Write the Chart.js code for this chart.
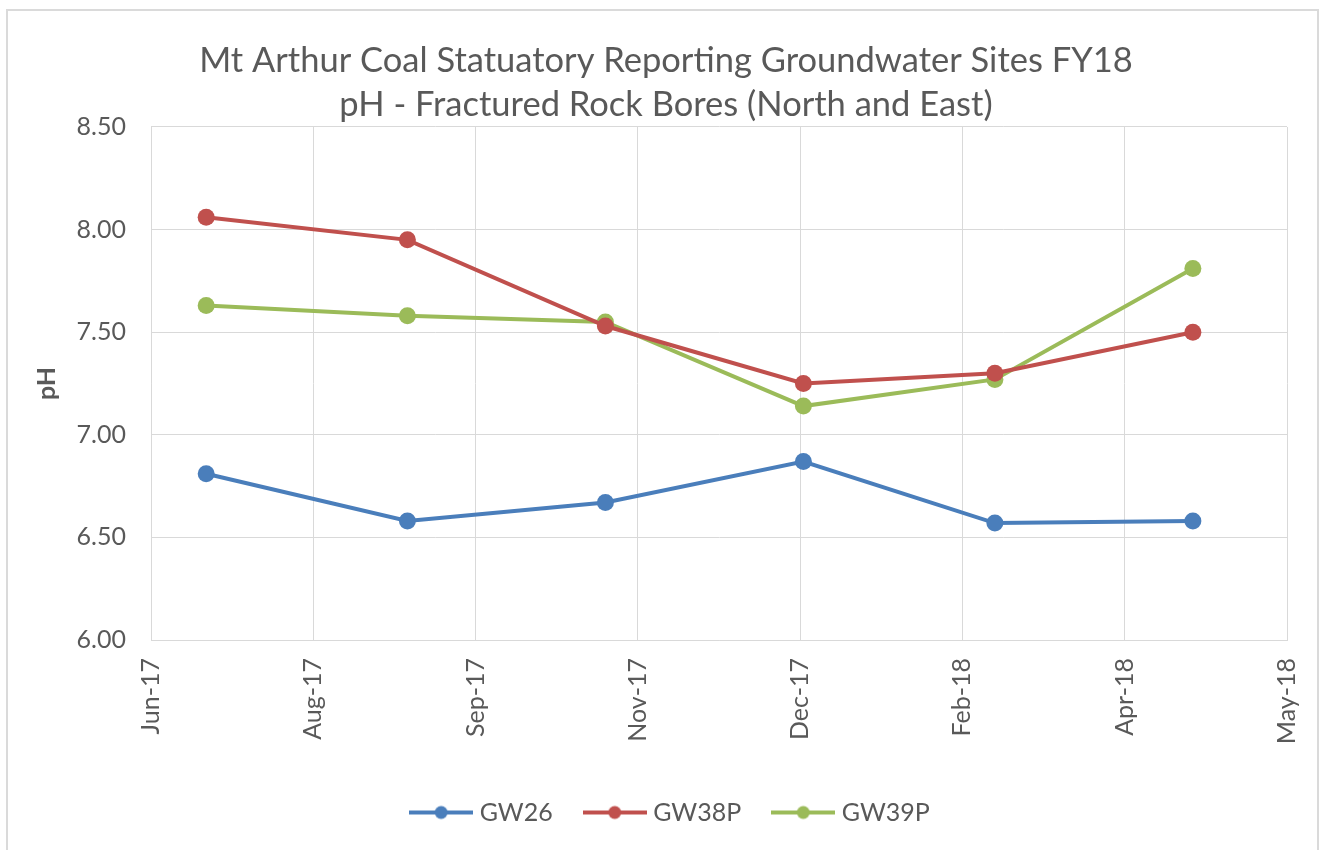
<!DOCTYPE html>
<html>
<head>
<meta charset="utf-8">
<script src="https://cdn.jsdelivr.net/npm/chart.js@4.4.0/dist/chart.umd.min.js"></script>
<style>
    html, body { margin: 0; padding: 0; background: #fff; }
    #wrap { position: relative; width: 1324px; height: 850px; overflow: hidden; }
    #frame {
        position: absolute; left: 6px; top: 9px; width: 1313px; height: 860px;
        border: 2px solid #dadada; box-sizing: border-box;
    }
    canvas { position: absolute; left: 0; top: 0; }
</style>
</head>
<body>
<div id="wrap">
    <div id="frame"></div>
    <canvas id="phChart" width="1324" height="850"></canvas>
</div>
<script>
// sampling dates and pH readings
const sampleDates = ["2017-06-30", "2017-08-31", "2017-10-31", "2017-12-31", "2018-02-28", "2018-04-30"];
const gw26 = [6.81, 6.58, 6.67, 6.87, 6.57, 6.58];
const gw38p = [8.06, 7.95, 7.53, 7.25, 7.30, 7.50];
const gw39p = [7.63, 7.58, 7.55, 7.14, 7.27, 7.81];

// axis starts on 13-Jun-17 with a major unit of 50 days (like the excel date axis)
const axisStart = "2017-06-13";
const tickLabels = ["Jun-17", "Aug-17", "Sep-17", "Nov-17", "Dec-17", "Feb-18", "Apr-18", "May-18"];
const yTicks = [6.0, 6.5, 7.0, 7.5, 8.0, 8.5];

const DAY = 86400000;
const GRAY_TEXT = "#595959";
const GRID = "#d9d9d9";
const FONT = "Lato";

function daysFromStart(d) {
    return (Date.parse(d) - Date.parse(axisStart)) / DAY;
}

function toPoints(values) {
    return values.map((v, i) => ({ x: daysFromStart(sampleDates[i]), y: v }));
}

// legend marker: line with a dot in the middle
function legendMarker(color) {
    const c = document.createElement("canvas");
    c.width = 64;
    c.height = 18;
    const g = c.getContext("2d");
    g.strokeStyle = color;
    g.lineWidth = 4;
    g.beginPath();
    g.moveTo(0, 9);
    g.lineTo(64, 9);
    g.stroke();
    g.fillStyle = color;
    g.beginPath();
    g.arc(32, 9, 6.5, 0, Math.PI * 2);
    g.fill();
    return c;
}

function series(label, values, color) {
    return {
        label,
        data: toPoints(values),
        borderColor: color,
        backgroundColor: color,
        borderWidth: 4,
        pointRadius: 8.5,
        pointHoverRadius: 8.5,
        pointBorderWidth: 0,
        tension: 0,
        marker: legendMarker(color)
    };
}

const datasets = [
    series("GW26", gw26, "#4a7ebb"),
    series("GW38P", gw38p, "#c0504d"),
    series("GW39P", gw39p, "#9bbb59")
];

// nudge legend and title a bit to the right like in excel
const boxShift = {
    id: "boxShift",
    afterLayout(chart) {
        if (chart.legend) chart.legend.left += 48;
        if (chart.titleBlock) chart.titleBlock.left += 35;
    }
};

new Chart(document.getElementById("phChart"), {
    type: "line",
    data: { datasets },
    plugins: [boxShift],
    options: {
        responsive: false,
        animation: false,
        layout: { padding: { top: 0, left: 10, right: 37, bottom: 15 } },
        plugins: {
            title: {
                display: true,
                text: ["Mt Arthur Coal Statuatory Reporting Groundwater Sites FY18",
                       "pH - Fractured Rock Bores (North and East)"],
                color: GRAY_TEXT,
                font: { family: FONT, size: 34.5, weight: "normal", lineHeight: 44 / 34.5 },
                padding: { top: 39, bottom: 0 }
            },
            legend: {
                position: "bottom",
                labels: {
                    usePointStyle: true,
                    pointStyleWidth: 52,
                    padding: 36,
                    color: GRAY_TEXT,
                    font: { family: FONT, size: 25 },
                    generateLabels(chart) {
                        return chart.data.datasets.map((ds, i) => ({
                            text: ds.label,
                            pointStyle: ds.marker,
                            fillStyle: ds.borderColor,
                            strokeStyle: ds.borderColor,
                            lineWidth: 0,
                            fontColor: GRAY_TEXT,
                            datasetIndex: i
                        }));
                    }
                }
            },
            tooltip: { enabled: false }
        },
        scales: {
            x: {
                type: "linear",
                min: 0,
                max: 350,
                afterFit(scale) {
                    scale.height = 124;
                    // last rotated label would otherwise push the plot in
                    scale.paddingRight = 0;
                    scale.paddingLeft = 0;
                },
                ticks: {
                    stepSize: 50,
                    minRotation: 90,
                    maxRotation: 90,
                    padding: 18,
                    color: GRAY_TEXT,
                    font: { family: FONT, size: 25 },
                    callback: (value, index) => tickLabels[index]
                },
                grid: { color: GRID, drawTicks: false },
                border: { color: GRID }
            },
            y: {
                min: yTicks[0],
                max: yTicks[yTicks.length - 1],
                afterFit(scale) { scale.width = 141; },
                ticks: {
                    stepSize: 0.5,
                    padding: 25,
                    color: GRAY_TEXT,
                    font: { family: FONT, size: 25 },
                    callback: v => v.toFixed(2)
                },
                grid: { color: GRID, drawTicks: false },
                border: { color: GRID },
                title: {
                    display: true,
                    text: "pH",
                    color: GRAY_TEXT,
                    font: { family: FONT, size: 25, weight: "bold" },
                    padding: { top: 22, bottom: 0 }
                }
            }
        }
    }
});
</script>
</body>
</html>
